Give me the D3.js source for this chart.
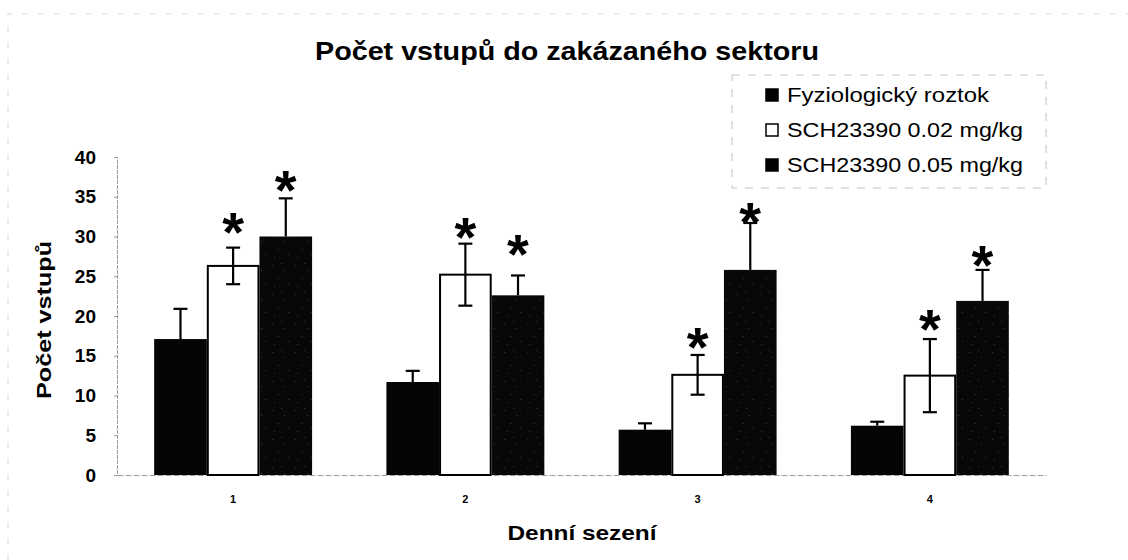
<!DOCTYPE html>
<html>
<head>
<meta charset="utf-8">
<script src="https://cdn.jsdelivr.net/npm/d3@7"></script>
<style>
  html, body { margin: 0; padding: 0; background: #fff; }
  svg { display: block; font-family: "Liberation Sans", Arial, sans-serif; }
</style>
</head>
<body>
<svg id="chart" width="1128" height="560"></svg>
<script>
// ---- data ----
const days = ["1", "2", "3", "4"];
const seriesNames = ["Fyziologický roztok", "SCH23390 0.02 mg/kg", "SCH23390 0.05 mg/kg"];
const saline = [17.1, 11.7, 5.7, 6.2];
const salineErr = [3.8, 1.4, 0.8, 0.5];
const sch002 = [26.3, 25.2, 12.6, 12.5];
const sch002Err = [2.3, 3.9, 2.5, 4.6];
const sch005 = [30.0, 22.6, 25.8, 21.9];
const sch005Err = [4.8, 2.5, 5.9, 3.9];
// significance marks (value level of the asterisk centre)
const sch002Star = [32.1, 31.4, 17.6, 19.9];
const sch005Star = [37.4, 29.3, 33.3, 27.9];
const yTicks = [0, 5, 10, 15, 20, 25, 30, 35, 40];
const chartTitle = "Počet vstupů do zakázaného sektoru";
const yTitle = "Počet vstupů";
const xTitle = "Denní sezení";

const seriesValues = [saline, sch002, sch005];
const seriesErrs = [salineErr, sch002Err, sch005Err];
const seriesStars = [null, sch002Star, sch005Star];
const seriesFill = ["#050505", "#ffffff", "url(#speckle)"];

const svg = d3.select("#chart");

// speckled near-black fill for third series
const defs = svg.append("defs");
const pat = defs.append("pattern").attr("id", "speckle").attr("patternUnits", "userSpaceOnUse")
  .attr("width", 23).attr("height", 29);
pat.append("rect").attr("width", 23).attr("height", 29).attr("fill", "#080808");
[[3,4],[15,9],[9,17],[19,22],[5,25],[12,2]].forEach(([cx, cy]) =>
  pat.append("rect").attr("x", cx).attr("y", cy).attr("width", 1).attr("height", 1).attr("fill", "#3c3c3c"));

// faint outer frame (top & left)
svg.append("path").attr("d", "M8,560 L8,14 L1128,14")
  .attr("fill", "none").attr("stroke", "#dcdcdc").attr("stroke-dasharray", "6,10");

// ---- scales ----
const x0 = d3.scaleBand().domain(days).range([117, 1046]).paddingInner(0.32).paddingOuter(0.16);
const x1 = d3.scaleBand().domain(seriesNames).range([0, x0.bandwidth()]).padding(0);
const y = d3.scaleLinear().domain([0, 40]).range([475, 157]);

// ---- axes ----
const yAxis = d3.axisLeft(y).tickValues(yTicks).tickSize(3).tickPadding(18);
const gy = svg.append("g").attr("transform", "translate(117,0)").call(yAxis);
gy.select(".domain").attr("stroke", "#9a9a9a").attr("stroke-dasharray", "4,1");
gy.selectAll(".tick line").attr("stroke", "#9a9a9a");
gy.selectAll(".tick text").attr("font-size", 19).attr("font-weight", "bold")
  .attr("fill", "#000").attr("font-family", "Liberation Sans, Arial, sans-serif");

const xAxis = d3.axisBottom(x0).tickSize(0).tickPadding(20);
const gx = svg.append("g").attr("transform", "translate(0,475)").call(xAxis);
gx.select(".domain").attr("stroke", "#a0a0a0").attr("stroke-dasharray", "6,2");
gx.selectAll(".tick text").attr("font-size", 11).attr("font-weight", "bold")
  .attr("fill", "#000").attr("font-family", "Liberation Sans, Arial, sans-serif");

// ---- bars ----
const groups = svg.append("g").selectAll("g").data(days).join("g")
  .attr("transform", d => `translate(${x0(d)},0)`);

seriesNames.forEach((s, si) => {
  groups.append("rect")
    .attr("x", x1(s) + (si === 1 ? 1 : 0))
    .attr("width", x1.bandwidth() - (si === 1 ? 2 : 0))
    .attr("y", (d, i) => y(seriesValues[si][i]))
    .attr("height", (d, i) => y(0) - y(seriesValues[si][i]))
    .attr("fill", seriesFill[si])
    .attr("stroke", si === 1 ? "#000" : "none")
    .attr("stroke-width", 2);
});

// ---- error bars ----
const capW = 7;
seriesNames.forEach((s, si) => {
  const cx = x1(s) + x1.bandwidth() / 2;
  const showLower = si === 1; // lower whisker hidden inside dark bars
  const eb = groups.append("g").attr("stroke", "#000").attr("stroke-width", 2.2);
  eb.append("line").attr("x1", cx).attr("x2", cx)
    .attr("y1", (d, i) => y(showLower ? seriesValues[si][i] - seriesErrs[si][i] : seriesValues[si][i]))
    .attr("y2", (d, i) => y(seriesValues[si][i] + seriesErrs[si][i]));
  eb.append("line").attr("x1", cx - capW).attr("x2", cx + capW)
    .attr("y1", (d, i) => y(seriesValues[si][i] + seriesErrs[si][i]))
    .attr("y2", (d, i) => y(seriesValues[si][i] + seriesErrs[si][i]));
  if (showLower) {
    eb.append("line").attr("x1", cx - capW).attr("x2", cx + capW)
      .attr("y1", (d, i) => y(seriesValues[si][i] - seriesErrs[si][i]))
      .attr("y2", (d, i) => y(seriesValues[si][i] - seriesErrs[si][i]));
  }

  if (seriesStars[si]) {
    groups.append("text")
      .attr("x", cx)
      .attr("y", (d, i) => y(seriesStars[si][i]) + 31)
      .attr("text-anchor", "middle")
      .attr("font-size", 56).attr("font-weight", "bold")
      .text("*");
  }
});

// ---- titles ----
svg.append("text").attr("x", 567).attr("y", 60).attr("text-anchor", "middle")
  .attr("font-size", 25).attr("font-weight", "bold")
  .attr("textLength", 504).attr("lengthAdjust", "spacingAndGlyphs")
  .text(chartTitle);

svg.append("text").attr("transform", "translate(51,320) rotate(-90)").attr("text-anchor", "middle")
  .attr("font-size", 20).attr("font-weight", "bold")
  .attr("textLength", 158).attr("lengthAdjust", "spacingAndGlyphs")
  .text(yTitle);

svg.append("text").attr("x", 582).attr("y", 540).attr("text-anchor", "middle")
  .attr("font-size", 20).attr("font-weight", "bold")
  .attr("textLength", 149).attr("lengthAdjust", "spacingAndGlyphs")
  .text(xTitle);

// ---- legend ----
const lg = svg.append("g");
lg.append("rect").attr("x", 732).attr("y", 75).attr("width", 314).attr("height", 113)
  .attr("fill", "#fff").attr("stroke", "#c4c4c4").attr("stroke-dasharray", "8,8");
const legendW = [202, 236, 236];
seriesNames.forEach((s, si) => {
  const cy = 95 + si * 35;
  lg.append("rect").attr("x", 766).attr("y", cy - 6).attr("width", 12).attr("height", 12)
    .attr("fill", si === 1 ? "#fff" : "#000").attr("stroke", "#000").attr("stroke-width", 1.5);
  lg.append("text").attr("x", 787).attr("y", cy + 7)
    .attr("font-size", 19.5)
    .attr("textLength", legendW[si]).attr("lengthAdjust", "spacingAndGlyphs")
    .text(s);
});
</script>
</body>
</html>
